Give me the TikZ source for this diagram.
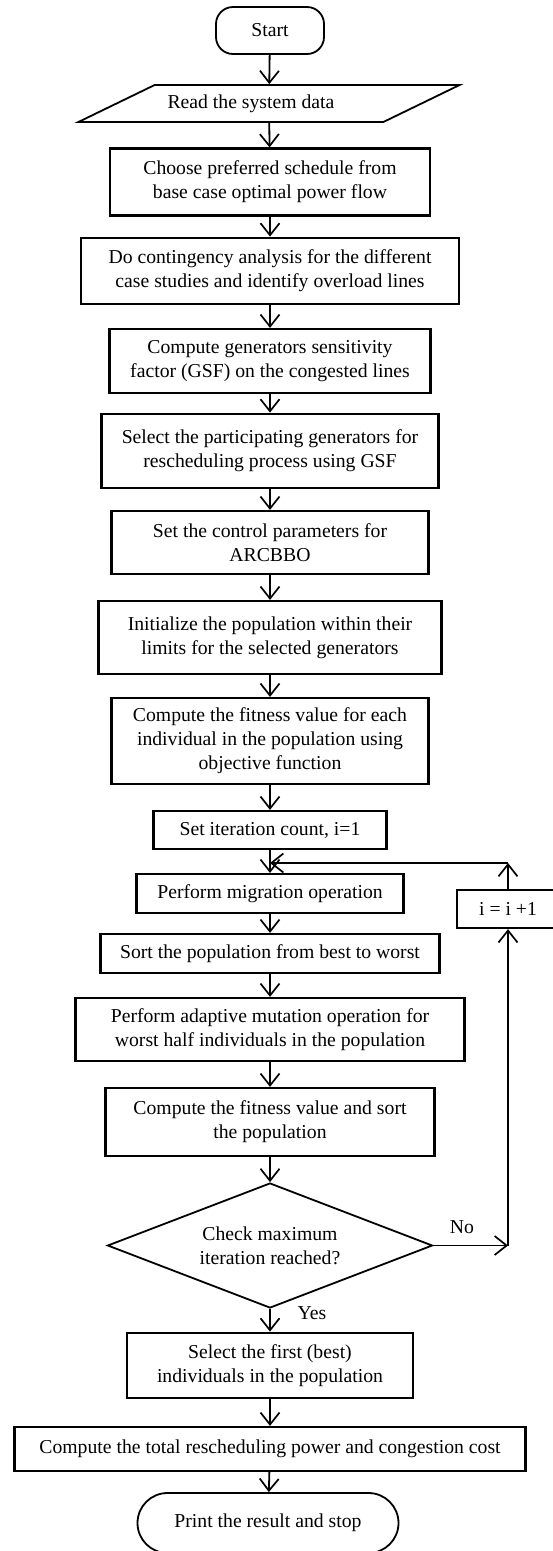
\documentclass[tikz,border=0pt]{standalone}
\usepackage{fontspec}
\setmainfont{Liberation Serif}
\usepackage{tikz}
\usetikzlibrary{arrows.meta,calc,positioning,shapes.geometric}

\begin{document}
\begin{tikzpicture}[
      x=1pt, y=-1pt,
      >={Straight Barb[length=12pt,width=19pt,line width=1.7pt]},
      procBox/.style={
        draw=black, line width=2.2pt, rectangle, align=center,
        font=\fontsize{19.7}{24}\selectfont, inner sep=2pt
      },
      procBoxThick/.style={procBox, line width=2.8pt},
      termBox/.style={
        draw=black, line width=1.8pt, rectangle, align=center,
        font=\fontsize{19.7}{24}\selectfont, inner sep=2pt
      },
      ioBox/.style={
        draw=black, line width=1.8pt, trapezium, trapezium left angle=26,
        trapezium right angle=154, trapezium stretches=true, align=center,
        font=\fontsize{19.7}{24}\selectfont, inner sep=2pt
      },
      decBox/.style={
        draw=black, line width=1.8pt, diamond, aspect=2.6, align=center,
        font=\fontsize{19.7}{24}\selectfont, inner sep=0pt
      },
      edgeLabel/.style={font=\fontsize{19.7}{24}\selectfont},
      flow/.style={->, line width=1.8pt}
    ]

      % ---------- Canvas ----------
      \useasboundingbox (0,0) rectangle (552,1551);

      % ---------- Main column ----------
      \node[termBox, rounded corners=17pt, minimum width=108, minimum height=47] (start) at (270, 30.5) {Start};
      \node[ioBox, minimum width=382, minimum height=37] (read) at (269, 103.5) {\hspace*{-36pt}Read the system data};
      \node[procBox, minimum width=320, minimum height=67] (choose) at (270, 182) {Choose preferred schedule from\\base case optimal power flow};
      \node[procBoxThick, minimum width=378, minimum height=66] (contingency) at (270, 271) {Do contingency analysis for the different\\case studies and identify overload lines};
      \node[procBox, minimum width=321, minimum height=64] (gsf) at (270, 361) {Compute generators sensitivity\\factor (GSF) on the congested lines};
      \node[procBoxThick, minimum width=337, minimum height=74] (select) at (270, 451) {Select the participating generators for\\rescheduling process using GSF};
      \node[procBox, minimum width=317, minimum height=63] (params) at (270, 542.5) {Set the control parameters for\\ARCBBO};
      \node[procBox, minimum width=343, minimum height=73] (init) at (270, 637.5) {Initialize the population within their\\limits for the selected generators};
      \node[procBox, minimum width=317, minimum height=86] (fitness) at (270, 741) {Compute the fitness value for each\\individual in the population using\\objective function};
      \node[procBox, minimum width=233, minimum height=38] (iter) at (270, 830) {Set iteration count, i=1};
      \node[procBox, minimum width=267, minimum height=39] (migrate) at (270, 893.5) {Perform migration operation};
      \node[procBox, minimum width=339, minimum height=39] (sortpop) at (270, 953.5) {Sort the population from best to worst};
      \node[procBox, minimum width=389, minimum height=63] (mutate) at (270, 1029.5) {Perform adaptive mutation operation for\\worst half individuals in the population};
      \node[procBox, minimum width=329, minimum height=68] (resort) at (270, 1122) {Compute the fitness value and sort\\the population};
      \node[decBox, minimum width=325, minimum height=125] (check) at (270, 1245.5) {Check maximum\\iteration reached?};
      \node[procBoxThick, minimum width=286, minimum height=65] (best) at (270, 1365.5) {Select the first (best)\\individuals in the population};
      \node[procBox, minimum width=511, minimum height=44] (total) at (270, 1449) {Compute the total rescheduling power and congestion cost};
      \node[termBox, rounded corners=30pt, minimum width=261, minimum height=60] (stop) at (268, 1523) {Print the result and stop};

      % ---------- Loop box ----------
      \node[procBox, minimum width=102, minimum height=38] (incr) at (508, 909) {i = i +1};

      % ---------- Arrows down the column ----------
      \draw[flow] (start) -- (read);
      \draw[flow] (read) -- (choose);
      \draw[flow] (choose) -- (contingency);
      \draw[flow] (contingency) -- (gsf);
      \draw[flow] (gsf) -- (select);
      \draw[flow] (select) -- (params);
      \draw[flow] (params) -- (init);
      \draw[flow] (init) -- (fitness);
      \draw[flow] (fitness) -- (iter);
      \draw[flow] (iter) -- (migrate);
      \draw[flow] (migrate) -- (sortpop);
      \draw[flow] (sortpop) -- (mutate);
      \draw[flow] (mutate) -- (resort);
      \draw[flow] (resort) -- (check);
      \draw[flow] (check) -- (best);
      \draw[flow] (best) -- (total);
      \draw[flow] (total) -- (stop);

      % ---------- Loop back (No branch) ----------
      \coordinate (loopIn) at (270, 863);
      \coordinate (noTurn) at (incr.south |- check.east);
      \coordinate (loopTop) at (incr.north |- loopIn);
      \draw[flow] (check.east) -- (noTurn);
      \draw[flow] (noTurn) -- (incr.south);
      \draw[flow] (incr.north) -- (loopTop);
      \draw[flow] (loopTop) -- (loopIn);

      \node[edgeLabel] (noLbl) at (462, 1227) {No};
      \node[edgeLabel] (yesLbl) at (312, 1313) {Yes};

    \end{tikzpicture}
\end{document}
